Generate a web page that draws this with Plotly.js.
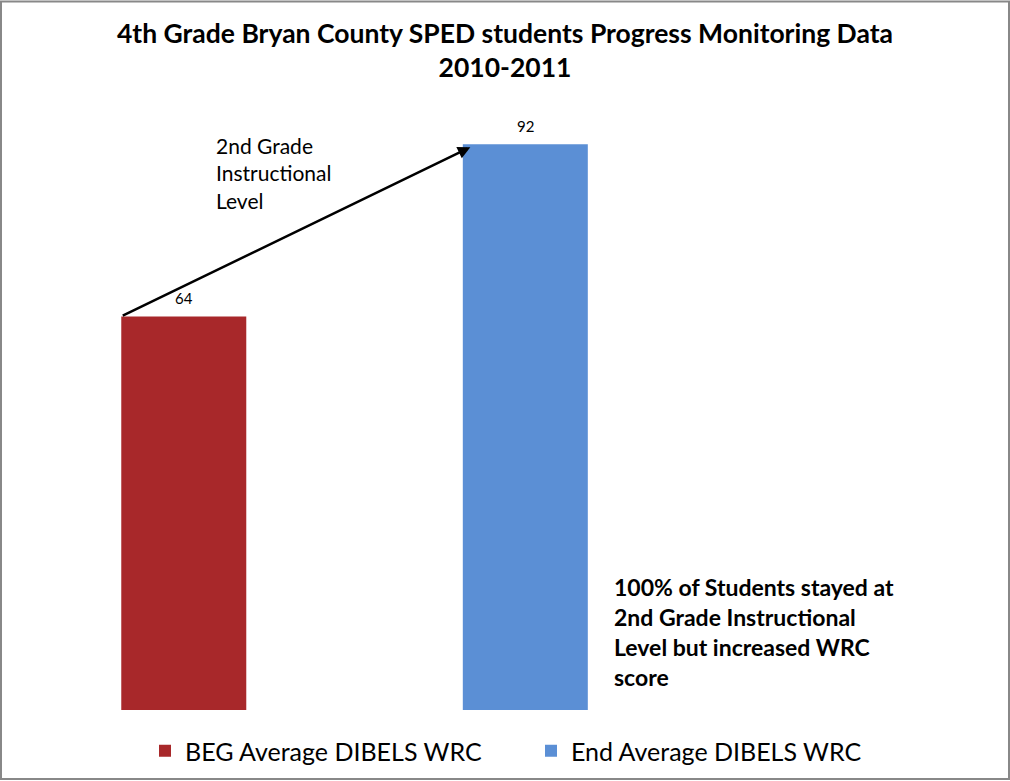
<!DOCTYPE html>
<html><head><meta charset="utf-8">
<script src="https://cdn.plot.ly/plotly-3.0.1.min.js"></script>
<style>body{margin:0;padding:0;background:#fff}#chart{width:1010px;height:781px}</style>
</head><body><div id="chart"></div>
<script>
const seriesNames = ["BEG Average DIBELS WRC", "End Average DIBELS WRC"];
const seriesValues = [64, 92];
const seriesColors = ["#A8282A", "#5B8FD5"];
const titleText = "4th Grade Bryan County SPED students Progress Monitoring Data<br>2010-2011";
const arrowNote = "2nd Grade<br>Instructional<br>Level";
const sideNote = "<b>100% of Students stayed at<br>2nd Grade Instructional<br>Level but increased WRC<br>score</b>";

const FONT = "Lato, 'Open Sans', sans-serif";
const FW = 1010, FH = 781;
const px = xPix => xPix / FW;
const py = yPix => 1 - yPix / FH;

const traces = seriesNames.map((n, i) => ({
  type: "bar", name: n, x: [i], y: [seriesValues[i]], width: 0.366,
  marker: {color: seriesColors[i]}, hoverinfo: "none"
}));

const valueLabels = seriesValues.map((v, i) => ({
  x: i, y: v, xref: "x", yref: "y", text: String(v), showarrow: false,
  yanchor: "bottom", yshift: 7, font: {family: FONT, size: 15, color: "#000"}
}));

const layout = {
  width: FW, height: FH,
  margin: {l: 0, r: 0, t: 0, b: 0, pad: 0},
  paper_bgcolor: "#fff", plot_bgcolor: "#fff",
  title: {text: titleText, font: {family: FONT, size: 26.5, color: "#000", weight: "bold"},
          xref: "container", x: 0.5, xanchor: "center", yref: "container", y: py(43), yanchor: "middle"},
  showlegend: true,
  legend: {orientation: "h", x: px(145), xanchor: "left", y: py(751), yanchor: "middle",
           font: {family: FONT, size: 25, color: "#000"}, entrywidth: 341, entrywidthmode: "pixels",
           itemclick: false, itemdoubleclick: false},
  xaxis: {range: [-0.5, 2.1], domain: [px(13), px(901)], visible: false, fixedrange: true},
  yaxis: {range: [0, 100], domain: [py(710), py(95)], visible: false, fixedrange: true},
  annotations: valueLabels.concat([
    {x: 1 - 0.183 + 0.022, y: 91.5, ax: -0.183, ay: seriesValues[0], xref: "x", yref: "y",
     axref: "x", ayref: "y", showarrow: true, arrowhead: 2, arrowsize: 1, arrowwidth: 2.5,
     arrowcolor: "#000", text: ""},
    {x: px(214), y: py(131), xref: "paper", yref: "paper", xanchor: "left", yanchor: "top",
     align: "left", showarrow: false, text: arrowNote,
     font: {family: FONT, size: 21, color: "#000"}},
    {x: px(612), y: py(571), xref: "paper", yref: "paper", xanchor: "left", yanchor: "top",
     align: "left", showarrow: false, text: sideNote,
     font: {family: FONT, size: 23, color: "#000"}}
  ]),
  shapes: [{type: "rect", xref: "paper", yref: "paper",
            x0: px(1), x1: px(1009), y0: py(779), y1: py(1.5),
            line: {color: "#888", width: 2}, fillcolor: "rgba(0,0,0,0)", layer: "below"}]
};

Plotly.newPlot("chart", traces, layout, {displayModeBar: false, staticPlot: true});
</script></body></html>
